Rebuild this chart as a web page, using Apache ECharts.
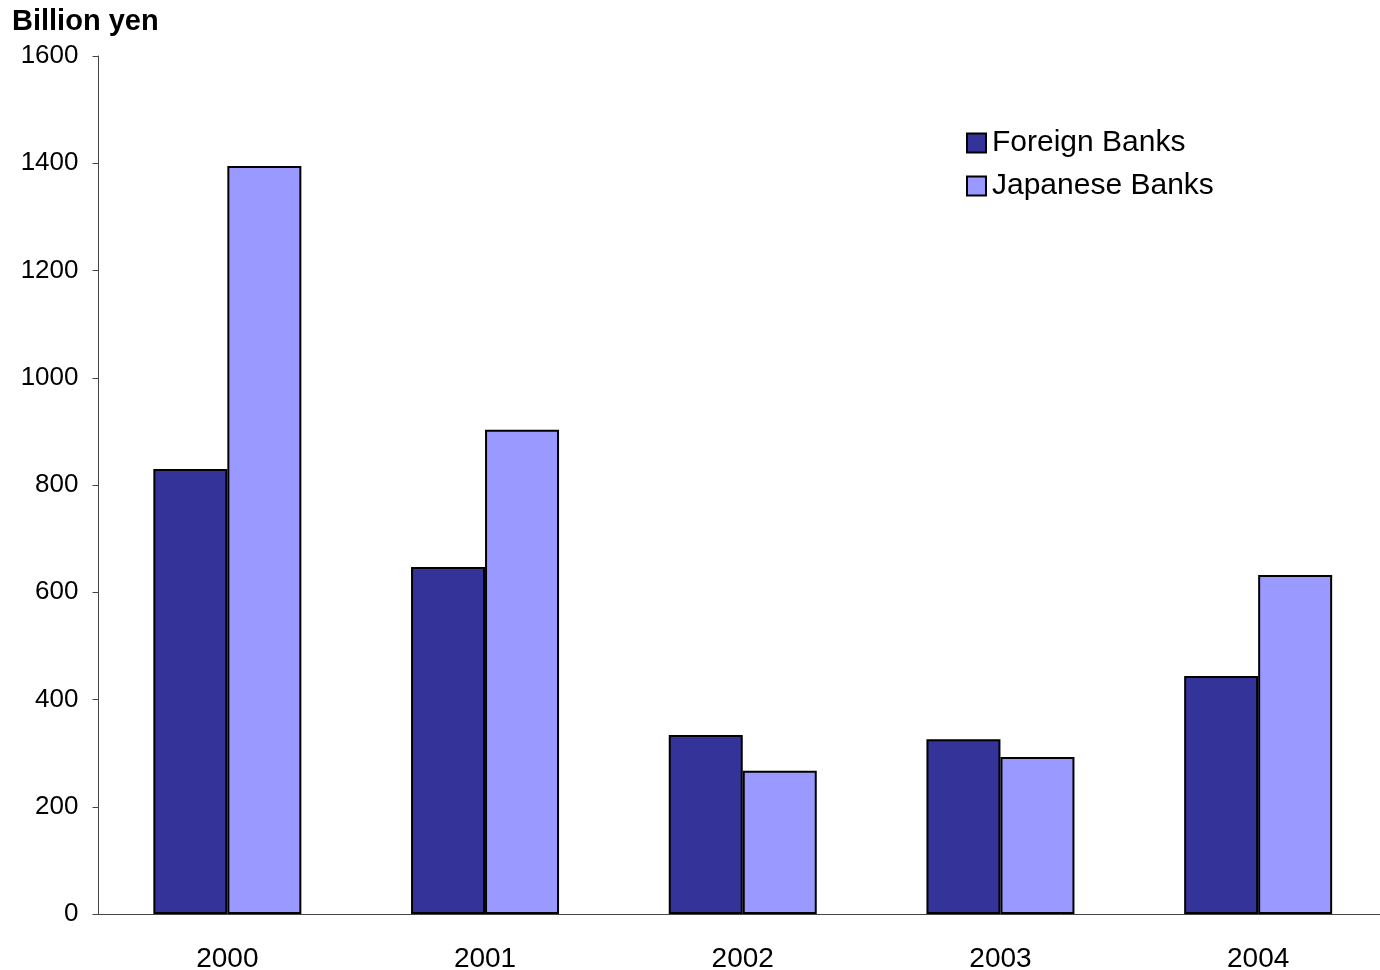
<!DOCTYPE html>
<html>
<head>
<meta charset="utf-8">
<script src="https://cdn.jsdelivr.net/npm/echarts@6/dist/echarts.min.js"></script>
<style>
  html, body { margin: 0; padding: 0; background: #fff; overflow: hidden; }
  #chart { width: 1380px; height: 970px; }
</style>
</head>
<body>
<div id="chart"></div>
<script>
// Annual values, billion yen
const years = ['2000', '2001', '2002', '2003', '2004'];
const foreignBanks = [830, 647, 334, 326, 444];
const japaneseBanks = [1395, 903, 267, 293, 632];
const yTicks = { min: 0, max: 1600, interval: 200 };

const font = '"Liberation Sans", Arial, sans-serif';
const chart = echarts.init(document.getElementById('chart'));

chart.setOption({
  animation: false,
  backgroundColor: '#ffffff',
  textStyle: { fontFamily: font },
  title: {
    text: 'Billion yen',
    left: 7,
    top: 2,
    textStyle: { fontFamily: font, fontSize: 29, fontWeight: 'bold', color: '#000' }
  },
  legend: {
    orient: 'vertical',
    left: 961,
    top: 123,
    itemWidth: 19,
    itemHeight: 19,
    itemGap: 13,
    icon: 'rect',
    textStyle: { fontFamily: font, fontSize: 30, lineHeight: 30, color: '#000', padding: [0, 0, 0, 1] },
    data: ['Foreign Banks', 'Japanese Banks']
  },
  // the last category runs slightly past the right edge of the canvas
  grid: { left: 98.5, top: 56, bottom: 56, right: -7, outerBoundsMode: 'none', containLabel: false },
  xAxis: {
    type: 'category',
    data: years,
    axisLine: { lineStyle: { color: '#444', width: 1 } },
    axisTick: { length: 9, lineStyle: { color: '#444' } },
    axisLabel: { fontFamily: font, fontSize: 28, color: '#000', margin: 31 },
    splitLine: { show: false }
  },
  yAxis: {
    type: 'value',
    min: yTicks.min,
    max: yTicks.max,
    interval: yTicks.interval,
    axisLine: { show: true, lineStyle: { color: '#444', width: 1 } },
    axisTick: { show: true, length: 6, lineStyle: { color: '#444' } },
    axisLabel: {
      fontFamily: font, fontSize: 26, color: '#000', margin: 20,
      formatter: (v) => String(v)
    },
    splitLine: { show: false }
  },
  series: [
    {
      name: 'Foreign Banks',
      type: 'bar',
      data: foreignBanks,
      barWidth: 74,
      barGap: '0%',
      itemStyle: { color: '#333399', borderColor: '#000', borderWidth: 2 }
    },
    {
      name: 'Japanese Banks',
      type: 'bar',
      data: japaneseBanks,
      barWidth: 74,
      barGap: '0%',
      itemStyle: { color: '#9999FF', borderColor: '#000', borderWidth: 2 }
    }
  ]
});
</script>
</body>
</html>
